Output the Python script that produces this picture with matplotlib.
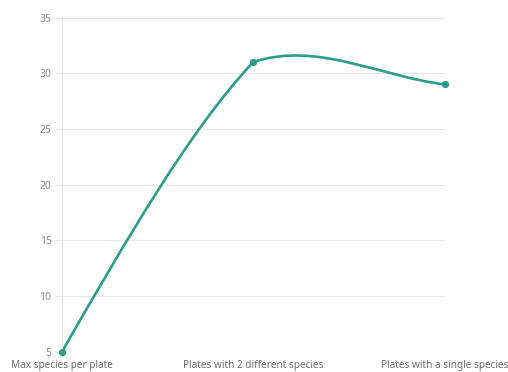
import numpy as np
import matplotlib
matplotlib.use("Agg")
import matplotlib.pyplot as plt
from matplotlib.path import Path
from matplotlib.patches import PathPatch

categories = ["Max species per plate", "Plates with 2 different species",
              "Plates with a single species"]
values = [5, 31, 29]
y_ticks = [5, 10, 15, 20, 25, 30, 35]

LINE_COLOR = "#2a9d8b"
GRID_COLOR = "#e6e6e6"
TICK_LABEL_COLOR = "#8c8c8c"
CAT_LABEL_COLOR = "#6e6e6e"
FONT = ["Noto Sans", "DejaVu Sans"]

fig = plt.figure(figsize=(5.08, 3.72), dpi=100)
ax = fig.add_axes([62 / 508, (372 - 351.7) / 372,
                   (444.5 - 62) / 508, (351.7 - 17.5) / 372])

x = np.arange(len(categories), dtype=float)
ax.set_xlim(0, len(categories) - 1)
ax.set_ylim(min(y_ticks), max(y_ticks))

# Grid and axes styling
ax.set_yticks(y_ticks)
ax.set_yticklabels([str(t) for t in y_ticks], fontsize=7.5, color=TICK_LABEL_COLOR,
                   family=FONT)
ax.grid(axis="y", color=GRID_COLOR, linewidth=0.8)
ax.set_axisbelow(True)
ax.tick_params(axis="y", length=5, width=0.8, color=GRID_COLOR, pad=2.5)
ax.set_xticks(x)
ax.set_xticklabels(categories, fontsize=7.2, color=CAT_LABEL_COLOR, family=FONT)
ax.tick_params(axis="x", length=0, pad=5.8)
for side in ["top", "right", "bottom"]:
    ax.spines[side].set_visible(False)
ax.spines["left"].set_color(GRID_COLOR)
ax.spines["left"].set_linewidth(0.8)


def spline_path(xs, ys, continuity=0.45):
    """Piecewise cubic Hermite curve with separate incoming/outgoing tangents
    (Kochanek-Bartels style continuity), natural start and straight end."""
    xs = np.asarray(xs, float)
    ys = np.asarray(ys, float)
    n = len(xs)
    d = np.diff(ys) / np.diff(xs)
    t_in = np.zeros(n)
    t_out = np.zeros(n)
    c = continuity
    for i in range(1, n - 1):
        t_in[i] = (1 + c) / 2 * d[i - 1] + (1 - c) / 2 * d[i]
        t_out[i] = (1 - c) / 2 * d[i - 1] + (1 + c) / 2 * d[i]
    t_out[0] = 1.5 * d[0] - 0.5 * t_in[1]
    t_in[-1] = d[-1]
    verts = [(xs[0], ys[0])]
    codes = [Path.MOVETO]
    for i in range(n - 1):
        h = xs[i + 1] - xs[i]
        verts += [(xs[i] + h / 3, ys[i] + t_out[i] * h / 3),
                  (xs[i + 1] - h / 3, ys[i + 1] - t_in[i + 1] * h / 3),
                  (xs[i + 1], ys[i + 1])]
        codes += [Path.CURVE4] * 3
    return Path(verts, codes)


patch = PathPatch(spline_path(x, values), facecolor="none", edgecolor=LINE_COLOR,
                  linewidth=1.9, clip_on=False, capstyle="round", joinstyle="round")
ax.add_patch(patch)
ax.plot(x, values, linestyle="none", marker="o", markersize=4.2, color=LINE_COLOR,
        clip_on=False, zorder=3)

fig.savefig("out.png", dpi=100)
